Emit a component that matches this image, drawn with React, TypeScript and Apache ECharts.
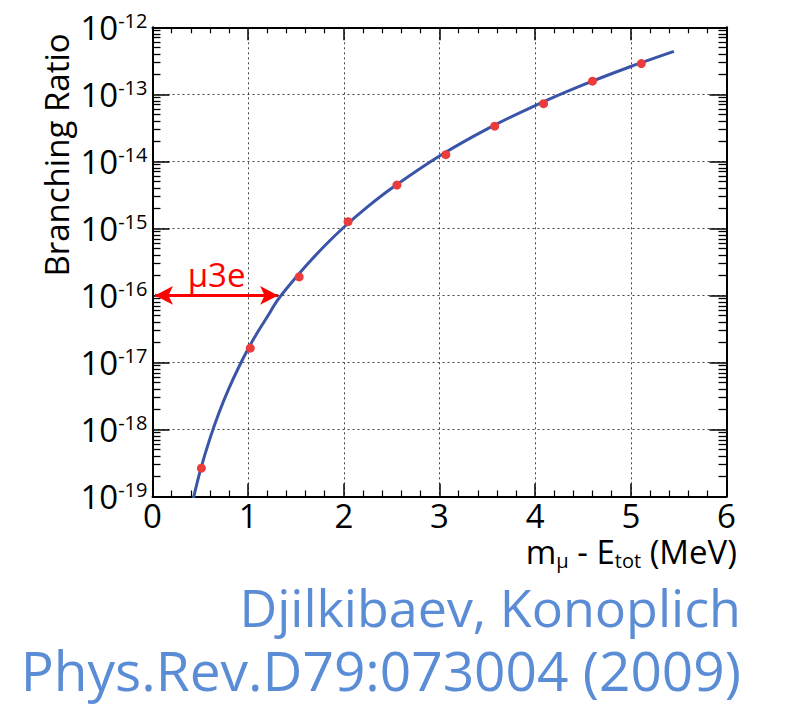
import React, { useEffect, useRef } from "react";
import * as echarts from "echarts";

// Red points: x = n * m_e (MeV)
const DOT_X = [0.511, 1.022, 1.533, 2.044, 2.555, 3.066, 3.577, 4.088, 4.599, 5.11];
const DOT_Y = [2.65e-19, 1.63e-17, 1.89e-16, 1.26e-15, 4.43e-15, 1.26e-14, 3.35e-14, 7.26e-14, 1.57e-13, 2.88e-13];

// Blue curve
const CURVE_X = [0.42, 0.5, 0.6, 0.7, 0.8, 0.9, 1.0, 1.1, 1.2, 1.3, 1.4, 1.6, 1.8, 2.0, 2.25, 2.5, 3.0, 3.5, 4.0, 4.5, 5.0, 5.45];
const CURVE_Y = [8.5e-20, 2.45e-19, 7.3e-19, 1.85e-18, 4.13e-18, 8.4e-18, 1.6e-17, 2.85e-17, 4.8e-17, 8.2e-17, 1.26e-16, 2.72e-16, 5.5e-16, 1.04e-15, 2.11e-15, 3.97e-15, 1.2e-14, 3.05e-14, 6.8e-14, 1.38e-13, 2.6e-13, 4.37e-13];

// Arrow "μ3e" range
const ARROW_X = [0.026, 1.313];
const ARROW_Y = 1e-16;
const ARROW_LABEL = "μ3e";

// Axis
const X_MIN = 0;
const X_MAX = 6;
const Y_MIN = 1e-19;
const Y_MAX = 1e-12;
const MINOR_TICKS = [
  2e-19, 3e-19, 4e-19, 5e-19, 6e-19, 7e-19, 8e-19, 9e-19,
  2e-18, 3e-18, 4e-18, 5e-18, 6e-18, 7e-18, 8e-18, 9e-18,
  2e-17, 3e-17, 4e-17, 5e-17, 6e-17, 7e-17, 8e-17, 9e-17,
  2e-16, 3e-16, 4e-16, 5e-16, 6e-16, 7e-16, 8e-16, 9e-16,
  2e-15, 3e-15, 4e-15, 5e-15, 6e-15, 7e-15, 8e-15, 9e-15,
  2e-14, 3e-14, 4e-14, 5e-14, 6e-14, 7e-14, 8e-14, 9e-14,
  2e-13, 3e-13, 4e-13, 5e-13, 6e-13, 7e-13, 8e-13, 9e-13,
];

const Y_TITLE = "Branching Ratio";
const CREDIT_1 = "Djilkibaev, Konoplich";
const CREDIT_2 = "Phys.Rev.D79:073004 (2009)";

const FONT = "Open Sans";

export default function App() {
  const ref = useRef<HTMLDivElement>(null);
  useEffect(() => {
    if (!ref.current) return;
    const chart = echarts.init(ref.current, undefined, { renderer: "svg" });

    const yLabel = (v: number) => {
      const e = Math.round(Math.log10(v));
      return "10{sup|" + e + "}";
    };

    const gridLine = { show: true, lineStyle: { type: [2, 3] as any, color: "#444", width: 1 } };

    // minor tick length on the log axes, expressed along x (≈ 8 px)
    const tickLen = (X_MAX - X_MIN) * 8 / 575;
    const minorTickLines: any[] = [];
    MINOR_TICKS.forEach((v) => {
      minorTickLines.push([{ coord: [X_MIN, v] }, { coord: [X_MIN + tickLen, v] }]);
      minorTickLines.push([{ coord: [X_MAX - tickLen, v] }, { coord: [X_MAX, v] }]);
    });

    const option: any = {
      animation: false,
      backgroundColor: "#fff",
      grid: { left: 152.5, right: 64.5, top: 27.3, bottom: 213.5, containLabel: false },
      xAxis: [
        {
          type: "value",
          min: X_MIN,
          max: X_MAX,
          interval: 1,
          position: "bottom",
          axisLine: { show: true, onZero: false, lineStyle: { color: "#000", width: 2 } },
          axisTick: { show: true, inside: true, length: 13, lineStyle: { color: "#000", width: 1.5 } },
          minorTick: { show: true, splitNumber: 5, length: 6, lineStyle: { color: "#000", width: 1.2 } },
          axisLabel: { fontSize: 33, color: "#000", fontFamily: FONT, margin: 4, lineHeight: 30 },
          splitLine: gridLine,
        },
        {
          type: "value",
          min: X_MIN,
          max: X_MAX,
          interval: 1,
          position: "top",
          axisLine: { show: true, onZero: false, lineStyle: { color: "#000", width: 2 } },
          axisTick: { show: true, inside: true, length: 13, lineStyle: { color: "#000", width: 1.5 } },
          minorTick: { show: true, splitNumber: 5, length: 6, lineStyle: { color: "#000", width: 1.2 } },
          axisLabel: { show: false },
          splitLine: { show: false },
        },
      ],
      yAxis: [
        {
          type: "log",
          logBase: 10,
          min: Y_MIN,
          max: Y_MAX,
          position: "left",
          axisLine: { show: true, onZero: false, lineStyle: { color: "#000", width: 2 } },
          axisTick: { show: true, inside: true, length: 17, lineStyle: { color: "#000", width: 1.5 } },
          axisLabel: {
            formatter: yLabel,
            margin: 5,
            color: "#000",
            fontFamily: FONT,
            fontSize: 33,
            rich: {
              sup: { fontSize: 20, fontFamily: FONT, color: "#000", verticalAlign: "top", padding: [0, 0, 14, 0] },
            },
          },
          splitLine: gridLine,
        },
        {
          type: "log",
          logBase: 10,
          min: Y_MIN,
          max: Y_MAX,
          position: "right",
          axisLine: { show: true, onZero: false, lineStyle: { color: "#000", width: 2 } },
          axisTick: { show: true, inside: true, length: 17, lineStyle: { color: "#000", width: 1.5 } },
          axisLabel: { show: false },
          splitLine: { show: false },
        },
      ],
      series: [
        {
          type: "line",
          data: CURVE_X.map((x, i) => [x, CURVE_Y[i]]),
          smooth: 0.3,
          showSymbol: false,
          symbol: "none",
          clip: true,
          lineStyle: { color: "#3a55a8", width: 3 },
          z: 3,
          markLine: {
            silent: true,
            symbol: ["none", "none"],
            label: { show: false },
            lineStyle: { color: "#000", width: 1.3, type: "solid" },
            emphasis: { disabled: true },
            data: minorTickLines,
          },
        },
        {
          type: "scatter",
          data: DOT_X.map((x, i) => [x, DOT_Y[i]]),
          symbol: "circle",
          symbolSize: 9,
          itemStyle: { color: "#ec3b3b", opacity: 1 },
          z: 4,
          markLine: {
            silent: true,
            symbol: ["arrow", "arrow"],
            symbolSize: [14, 18],
            lineStyle: { color: "#ff0000", width: 3, type: "solid" },
            label: {
              show: true,
              position: "insideMiddleTop",
              formatter: ARROW_LABEL,
              color: "#ff0000",
              fontSize: 33,
              fontFamily: FONT,
              distance: 4,
            },
            data: [[{ coord: [ARROW_X[0], ARROW_Y] }, { coord: [ARROW_X[1], ARROW_Y] }]],
          },
        },
      ],
      graphic: [
        {
          type: "text",
          x: 56,
          y: 155,
          rotation: Math.PI / 2,
          style: { text: Y_TITLE, fontSize: 33, fontFamily: FONT, fill: "#000", align: "center", verticalAlign: "middle" },
        },
        {
          type: "text",
          x: 737,
          y: 551,
          style: {
            text: "m{sub|μ} - E{sub|tot} (MeV)",
            fontSize: 33,
            fontFamily: FONT,
            fill: "#000",
            align: "right",
            verticalAlign: "middle",
            rich: {
              sub: { fontSize: 20, fontFamily: FONT, fill: "#000", padding: [18, 0, 0, 0] },
            },
          },
        },
        {
          type: "text",
          x: 741,
          y: 606,
          style: { text: CREDIT_1, fontSize: 52, lineHeight: 52, fontFamily: FONT, fill: "#5b8dd6", align: "right", verticalAlign: "middle" },
        },
        {
          type: "text",
          x: 741,
          y: 669,
          style: { text: CREDIT_2, fontSize: 55, lineHeight: 55, fontFamily: FONT, fill: "#5b8dd6", align: "right", verticalAlign: "middle" },
        },
      ],
    };
    chart.setOption(option);
    return () => chart.dispose();
  }, []);
  return <div ref={ref} style={{ position: "fixed", left: 0, top: 0, width: 791, height: 710 }} />;
}
